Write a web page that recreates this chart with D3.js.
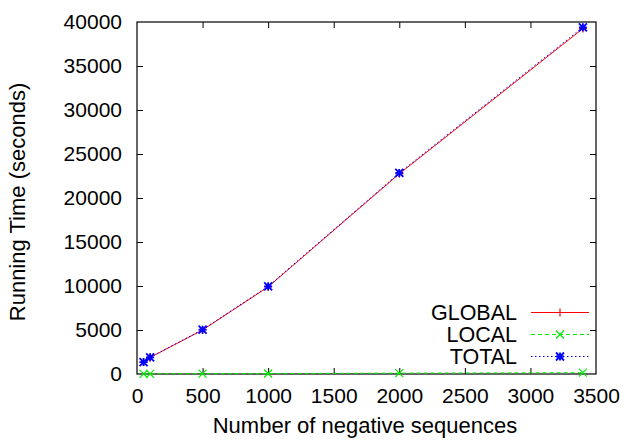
<!DOCTYPE html>
<html>
<head>
<meta charset="utf-8">
<script src="https://cdn.jsdelivr.net/npm/d3@7"></script>
<style>
  body { margin: 0; background: #fff; }
  text { font-family: "Liberation Sans", Arial, Helvetica, sans-serif; fill: #000; }
</style>
</head>
<body>
<svg id="chart" width="625" height="440"></svg>
<script>
// values
const sizes = [50, 100, 500, 1000, 2000, 3400];
const globalTime = [1350, 1880, 5000, 9900, 22750, 39250];
const localTime = [10, 15, 40, 60, 100, 150];
const totalTime = [1360, 1895, 5040, 9960, 22850, 39400];
const xTicks = [0, 500, 1000, 1500, 2000, 2500, 3000, 3500];
const yTicks = [0, 5000, 10000, 15000, 20000, 25000, 30000, 35000, 40000];

const series = [
  { label: 'GLOBAL', values: globalTime, color: '#ff0000', dash: null, marker: 'plus' },
  { label: 'LOCAL', values: localTime, color: '#00ee00', dash: '4,3', marker: 'cross' },
  { label: 'TOTAL', values: totalTime, color: '#0000ff', dash: '1.5,2.5', marker: 'star' }
];

const margin = { top: 22, right: 29, bottom: 66, left: 137 };
const width = 625, height = 440;
const innerWidth = width - margin.left - margin.right;
const innerHeight = height - margin.top - margin.bottom;

const svg = d3.select('#chart');
const g = svg.append('g').attr('transform', `translate(${margin.left},${margin.top})`);

const xScale = d3.scaleLinear().domain([0, 3500]).range([0, innerWidth]);
const yScale = d3.scaleLinear().domain([0, 40000]).range([innerHeight, 0]);

// axes (gnuplot style: inward ticks, mirrored)
const fontSize = '21px';
const fmt = d3.format('d');
const xAxisBottom = g.append('g').attr('transform', `translate(0,${innerHeight})`)
  .call(d3.axisBottom(xScale).tickValues(xTicks).tickFormat(fmt).tickSizeInner(-6).tickSizeOuter(0).tickPadding(14));
const xAxisTop = g.append('g')
  .call(d3.axisTop(xScale).tickValues(xTicks).tickSizeInner(-6).tickSizeOuter(0));
const yAxisLeft = g.append('g')
  .call(d3.axisLeft(yScale).tickValues(yTicks).tickFormat(fmt).tickSizeInner(-6).tickSizeOuter(0).tickPadding(15));
const yAxisRight = g.append('g').attr('transform', `translate(${innerWidth},0)`)
  .call(d3.axisRight(yScale).tickValues(yTicks).tickSizeInner(-6).tickSizeOuter(0));

// mirrored axes carry no labels
xAxisTop.selectAll('text').remove();
yAxisRight.selectAll('text').remove();

[xAxisBottom, xAxisTop, yAxisLeft, yAxisRight].forEach(ax => {
  ax.select('.domain').remove();
  ax.selectAll('line').attr('stroke', '#000').attr('stroke-width', 1);
  ax.selectAll('text').style('font-size', fontSize).attr('fill', '#000');
});
// first and last ticks sit on the frame
xAxisBottom.selectAll('.tick').filter(d => d === 0 || d === 3500).select('line').remove();
xAxisTop.selectAll('.tick').filter(d => d === 0 || d === 3500).select('line').remove();
yAxisLeft.selectAll('.tick').filter(d => d === 0 || d === 40000).select('line').remove();
yAxisRight.selectAll('.tick').filter(d => d === 0 || d === 40000).select('line').remove();

// frame
g.append('rect')
  .attr('width', innerWidth).attr('height', innerHeight)
  .attr('fill', 'none').attr('stroke', '#000').attr('stroke-width', 1.2);

// axis titles
svg.append('text')
  .attr('x', 365).attr('y', 433)
  .attr('text-anchor', 'middle').style('font-size', '22px')
  .text('Number of negative sequences');
svg.append('text')
  .attr('transform', `translate(25,${margin.top + innerHeight / 2 + 4}) rotate(-90)`)
  .attr('text-anchor', 'middle').style('font-size', '22px')
  .text('Running Time (seconds)');

function drawMarker(sel, type, color) {
  const s = 4;
  let d;
  if (type === 'plus') d = `M${-s},0H${s}M0,${-s}V${s}`;
  else if (type === 'cross') d = `M${-s},${-s}L${s},${s}M${-s},${s}L${s},${-s}`;
  else d = `M${-s},0H${s}M0,${-s}V${s}M${-s},${-s}L${s},${s}M${-s},${s}L${s},${-s}`;
  sel.append('path').attr('d', d).attr('stroke', color).attr('stroke-width', type === 'star' ? 1.8 : 1.2).attr('fill', 'none');
}

const line = d3.line().x(d => xScale(d[0])).y(d => yScale(d[1]));

series.forEach(s => {
  const pts = sizes.map((x, i) => [x, s.values[i]]);
  g.append('path')
    .datum(pts)
    .attr('d', line)
    .attr('fill', 'none')
    .attr('stroke', s.color)
    .attr('stroke-width', 1)
    .attr('stroke-dasharray', s.dash);
  g.selectAll(null)
    .data(pts)
    .join('g')
    .attr('transform', d => `translate(${xScale(d[0])},${yScale(d[1])})`)
    .each(function () { drawMarker(d3.select(this), s.marker, s.color); });
});

// legend
const legend = svg.append('g');
series.forEach((s, i) => {
  const y = 312.5 + i * 22;
  legend.append('text')
    .attr('x', 517).attr('y', y + 7.5)
    .attr('text-anchor', 'end').style('font-size', '21.5px')
    .text(s.label);
  legend.append('line')
    .attr('x1', 531).attr('x2', 589).attr('y1', y).attr('y2', y)
    .attr('stroke', s.color).attr('stroke-width', 1)
    .attr('stroke-dasharray', s.dash);
  drawMarker(legend.append('g').attr('transform', `translate(560,${y})`), s.marker, s.color);
});
</script>
</body>
</html>
